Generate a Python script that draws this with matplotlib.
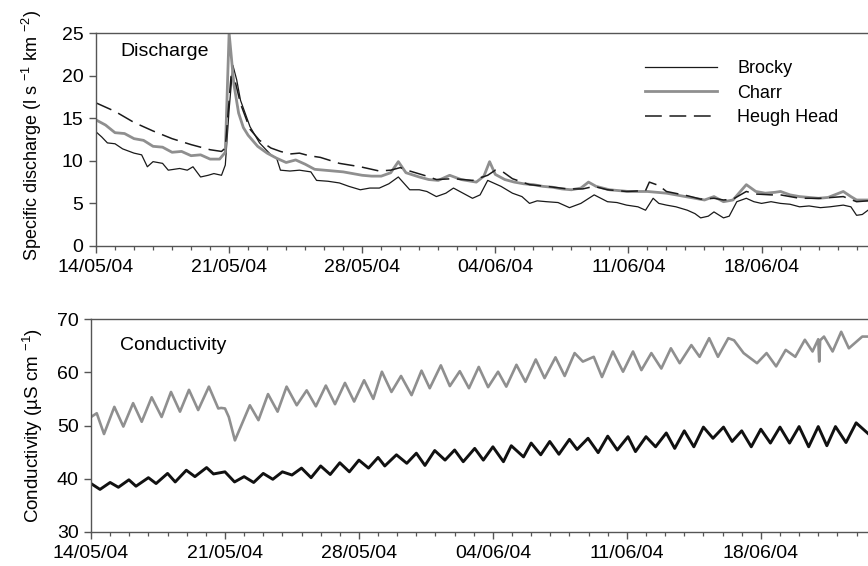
import matplotlib
matplotlib.use("Agg")
import matplotlib.pyplot as plt
from matplotlib.ticker import FixedLocator, MultipleLocator

plt.rcParams['font.family'] = ['Liberation Sans', 'DejaVu Sans']
plt.rcParams['mathtext.fontset'] = 'custom'
plt.rcParams['mathtext.rm'] = 'Liberation Sans'
plt.rcParams['mathtext.it'] = 'Liberation Sans'

# ---------------- data (days since 14/05/04 00:00) ----------------
date_ticks = [0, 7, 14, 21, 28, 35]
date_labels = ['14/05/04', '21/05/04', '28/05/04', '04/06/04', '11/06/04', '18/06/04']

brocky_q_t = [0, 0.3, 0.6, 1.0, 1.4, 2.0, 2.4, 2.7, 3.0, 3.5, 3.8, 4.4, 4.8, 5.1, 5.5, 5.9, 6.2, 6.6,
              6.8, 7.0, 7.2, 7.4, 7.6, 8.1, 8.6, 9.2, 9.5, 9.7, 10.2, 10.7, 11.3, 11.6, 12.2, 12.8,
              13.3, 13.9, 14.4, 14.9, 15.4, 15.9, 16.5, 17.0, 17.4, 17.9, 18.4, 18.8, 19.3, 19.8,
              20.2, 20.6, 21.3, 21.9, 22.4, 22.8, 23.2, 23.7, 24.3, 24.9, 25.5, 26.2, 26.9, 27.4,
              27.9, 28.5, 28.9, 29.3, 29.6, 30.0, 30.5, 31.1, 31.5, 31.8, 32.2, 32.5, 33.0, 33.3,
              33.7, 34.2, 34.6, 35.0, 35.5, 36.0, 36.5, 37.0, 37.5, 38.1, 38.6, 39.3, 39.7, 40.0,
              40.3, 40.6]
brocky_q = [13.4, 12.8, 12.1, 12.0, 11.4, 10.9, 10.7, 9.3, 9.9, 9.7, 8.9, 9.1, 8.9, 9.3, 8.1, 8.3, 8.5, 8.3,
            9.5, 16.0, 21.2, 19.5, 17.1, 14.0, 12.1, 10.7, 10.3, 8.9, 8.8, 8.9, 8.7, 7.7, 7.6, 7.4,
            7.0, 6.6, 6.8, 6.8, 7.3, 8.1, 6.6, 6.6, 6.4, 5.8, 6.2, 6.8, 6.2, 5.6,
            6.0, 7.7, 7.0, 6.2, 5.8, 5.0, 5.3, 5.2, 5.1, 4.5, 5.0, 6.0, 5.2, 5.1,
            4.8, 4.6, 4.2, 5.6, 5.0, 4.8, 4.6, 4.2, 3.8, 3.3, 3.5, 4.0, 3.3, 3.5,
            5.2, 5.6, 5.2, 5.0, 5.2, 5.0, 4.9, 4.6, 4.7, 4.5, 4.6, 4.8, 4.6, 3.6,
            3.7, 4.2]

charr_q_t = [0, 0.5, 1, 1.5, 2, 2.5, 3, 3.5, 4, 4.5, 5, 5.5, 6, 6.5, 6.8, 7.0, 7.25, 7.5, 7.75, 8.0,
             8.5, 9, 9.5, 10, 10.5, 11, 11.5, 12, 12.5, 13, 13.5, 14, 14.5, 15, 15.5, 15.9, 16.3,
             17, 17.5, 18, 18.6, 19.2, 20, 20.4, 20.7, 21.0, 21.5, 22, 22.5, 23, 23.5, 24, 24.5,
             25, 25.5, 25.9, 26.3, 27, 27.5, 28, 28.5, 29, 29.5, 30, 30.5, 31, 31.5, 32, 32.5,
             33, 33.5, 34.2, 34.7, 35.2, 35.7, 36.0, 36.5, 37, 37.5, 38, 38.5, 39.3, 39.7, 40.0, 40.6]
charr_q = [14.8, 14.2, 13.3, 13.2, 12.6, 12.4, 11.7, 11.6, 11.0, 11.1, 10.6, 10.7, 10.2, 10.2, 11.0, 25.0,
           19.0, 15.6, 13.9, 13.0,
           11.7, 10.9, 10.3, 9.8, 10.1, 9.6, 9.0, 8.9, 8.8, 8.7, 8.5, 8.3, 8.2, 8.2, 8.6, 9.9, 8.6,
           8.1, 7.8, 7.7, 8.3, 7.8, 7.5, 8.2, 9.9, 8.4, 7.8, 7.5, 7.3, 7.2, 7.0, 6.9, 6.7,
           6.6, 6.8, 7.5, 7.0, 6.6, 6.5, 6.4, 6.4, 6.4, 6.3, 6.2, 6.0, 5.8, 5.6, 5.4, 5.8,
           5.2, 5.4, 7.2, 6.4, 6.2, 6.3, 6.4, 6.0, 5.8, 5.7, 5.6, 5.7, 6.4, 5.8, 5.4, 5.4]

heugh_q_t = [0, 1, 2, 3, 4, 5, 6, 6.6, 6.8, 7.1, 7.3, 7.6, 8.1, 8.6, 9.2, 9.7, 10.2, 10.7, 11.2, 11.8,
             12.8, 13.9, 14.9, 15.5, 16.0, 16.5, 17.4, 17.9, 18.8, 19.8, 20.6, 21.0, 21.4, 21.9,
             22.8, 23.7, 24.8, 25.6, 26.2, 26.9, 27.9, 28.9, 29.1, 29.6, 30.0, 31.1, 31.8, 32.5,
             33.0, 33.5, 34.2, 34.7, 35.5, 36.0, 37.0, 38.1, 39.3, 40.0, 40.6]
heugh_q = [16.8, 15.8, 14.5, 13.5, 12.6, 11.9, 11.3, 11.1, 11.5, 19.9, 19.5, 16.7, 13.7, 12.4, 11.5, 11.1,
           10.8, 10.9, 10.6, 10.4,
           9.7, 9.3, 8.8, 8.9, 9.2, 8.8, 8.2, 7.8, 7.9, 7.7, 8.3, 8.9, 8.7, 7.9,
           7.2, 7.0, 6.7, 6.7, 7.0, 6.6, 6.4, 6.5, 7.5, 7.1, 6.4, 5.9, 5.5, 5.6,
           5.4, 5.5, 6.4, 6.1, 6.0, 6.0, 5.6, 5.6, 5.8, 5.2, 5.3]

charr_c_t = [0, 0.3, 0.68, 1.22, 1.69, 2.2, 2.65, 3.17, 3.69, 4.18, 4.65, 5.12, 5.6, 6.16, 6.65, 6.8,
             7.0, 7.2, 7.52, 8.3, 8.75, 9.25, 9.75, 10.22, 10.75, 11.27, 11.75, 12.27, 12.75, 13.27,
             13.75, 14.27, 14.75, 15.2, 15.7, 16.2, 16.75, 17.27, 17.7, 18.28, 18.75, 19.27, 19.75,
             20.26, 20.75, 21.27, 21.7, 22.23, 22.7, 23.24, 23.7, 24.27, 24.75, 25.27, 25.7, 26.27,
             26.7, 27.27, 27.8, 28.32, 28.76, 29.28, 29.8, 30.3, 30.76, 31.37, 31.8, 32.3, 32.76,
             33.3, 33.6, 34.1, 34.8, 35.3, 35.8, 36.3, 36.8, 37.3, 37.7, 38.0, 38.05, 38.1, 38.3,
             38.75, 39.2, 39.6, 40.3, 40.6]
charr_c = [51.6, 52.3, 48.4, 53.5, 49.8, 54.2, 50.7, 55.3, 51.6, 56.3, 52.6, 56.7, 52.9, 57.3, 53.2, 53.3,
           53.2, 51.6, 47.2, 53.8, 51.0, 55.9, 52.6, 57.3, 53.8, 56.6, 53.6, 57.5, 54.0, 58.0,
           54.5, 58.5, 55.0, 60.1, 56.3, 59.3, 55.7, 60.3, 57.0, 61.3, 57.4, 60.2, 57.0,
           61.0, 57.2, 60.1, 57.3, 61.4, 58.2, 62.4, 58.9, 62.8, 59.3, 63.6, 62.0, 62.9,
           59.1, 63.9, 60.1, 63.9, 60.4, 63.6, 60.7, 64.5, 61.7, 65.1, 62.9, 66.4, 62.9,
           66.4, 66.0, 63.6, 61.7, 63.6, 61.1, 64.2, 62.9, 66.1, 63.9, 66.2, 62.0, 66.0, 66.7,
           63.9, 67.6, 64.5, 66.7, 66.7]

brocky_c_t = [0, 0.47, 1.0, 1.43, 1.98, 2.35, 3.0, 3.4, 4.0, 4.4, 4.98, 5.43, 6.04, 6.4, 7.0, 7.5, 8.0,
              8.5, 9.0, 9.5, 10.0, 10.5, 11.0, 11.5, 12.0, 12.5, 13.0, 13.5, 14.0, 14.5, 15.0, 15.35,
              15.96, 16.5, 17.0, 17.45, 17.96, 18.5, 19.0, 19.45, 20.05, 20.5, 21.0, 21.55, 21.96,
              22.6, 23.0, 23.5, 23.97, 24.45, 25.0, 25.4, 25.97, 26.5, 27.0, 27.5, 28.06, 28.45,
              29.0, 29.5, 30.06, 30.5, 31.0, 31.5, 32.0, 32.5, 33.05, 33.5, 34.0, 34.5, 35.0, 35.5,
              36.0, 36.5, 37.0, 37.5, 38.0, 38.45, 38.9, 39.45, 39.98, 40.6]
brocky_c = [39.1, 38.0, 39.3, 38.4, 39.8, 38.6, 40.2, 39.1, 41.0, 39.4, 41.6, 40.4, 42.1, 40.9, 41.3, 39.4, 40.4,
            39.3, 41.0, 39.9, 41.3, 40.7, 42.0, 40.2, 42.4, 40.8, 43.0, 41.3, 43.5, 42.0, 44.0, 42.4,
            44.5, 42.9, 44.8, 42.5, 45.3, 43.5, 45.4, 43.2, 45.7, 43.5, 46.0, 43.2, 46.2,
            44.1, 46.7, 44.5, 47.0, 44.6, 47.4, 45.5, 47.6, 44.9, 48.0, 45.4, 47.9, 45.1,
            47.9, 46.0, 48.6, 45.7, 49.0, 46.0, 49.7, 47.6, 49.7, 47.0, 49.0, 46.0, 49.3, 46.7,
            49.7, 46.7, 49.8, 46.0, 49.8, 46.2, 49.8, 46.8, 50.5, 48.5]

# ---------------- figure ----------------
W, H = 868, 566
fig = plt.figure(figsize=(W / 100, H / 100), dpi=100)
ax1 = fig.add_axes([96 / W, 1 - 246 / H, 1 - 96 / W, 213 / H])
ax2 = fig.add_axes([91 / W, 1 - 532 / H, 1 - 91 / W, 213 / H])

FS = 14
spine_c = '#555555'
gray = '#8f8f8f'

ax1.plot(brocky_q_t, brocky_q, color='#1a1a1a', lw=0.9, label='Brocky')
ax1.plot(charr_q_t, charr_q, color=gray, lw=2.0, label='Charr')
ax1.plot(heugh_q_t, heugh_q, color='#1a1a1a', lw=1.1, dashes=(11, 5), label='Heugh Head')

ax2.plot(charr_c_t, charr_c, color=gray, lw=1.9, solid_joinstyle='round')
ax2.plot(brocky_c_t, brocky_c, color='#111111', lw=2.1, solid_joinstyle='round')

for ax, ylim, yt in [(ax1, (0, 25), range(0, 26, 5)), (ax2, (30, 70), range(30, 71, 10))]:
    ax.set_xlim(0, 40.6)
    ax.set_ylim(*ylim)
    ax.yaxis.set_major_locator(FixedLocator(list(yt)))
    ax.xaxis.set_major_locator(FixedLocator(date_ticks))
    ax.set_xticklabels(date_labels)
    ax.xaxis.set_minor_locator(MultipleLocator(1))
    ax.spines['right'].set_visible(False)
    for s in ['left', 'bottom', 'top']:
        ax.spines[s].set_color(spine_c)
        ax.spines[s].set_linewidth(1.0)
    ax.tick_params(axis='both', which='major', direction='out', length=5, width=1.0,
                   color=spine_c, labelsize=FS, pad=4)
    ax.tick_params(axis='x', which='minor', direction='out', length=3, width=0.9, color=spine_c)

ax1.set_ylabel('Specific discharge (l s $^{-1}$ km $^{-2}$)', fontsize=13)
ax2.set_ylabel('Conductivity (µS cm $^{-1}$)', fontsize=13.5)
ax1.yaxis.set_label_coords(-0.068, 0.52)
ax2.yaxis.set_label_coords(-0.059, 0.5)

fig.text(120 / W, 1 - 52 / H, 'Discharge', fontsize=FS, va='center', ha='left')
fig.text(120 / W, 1 - 345 / H, 'Conductivity', fontsize=FS, va='center', ha='left')

leg = ax1.legend(loc='upper left', bbox_to_anchor=(645 / W, 1 - 60 / H), bbox_transform=fig.transFigure,
                 frameon=False, fontsize=13, handlelength=4.0, handletextpad=1.1,
                 labelspacing=0.42, borderpad=0, borderaxespad=0)

fig.savefig('out.png', dpi=100)
